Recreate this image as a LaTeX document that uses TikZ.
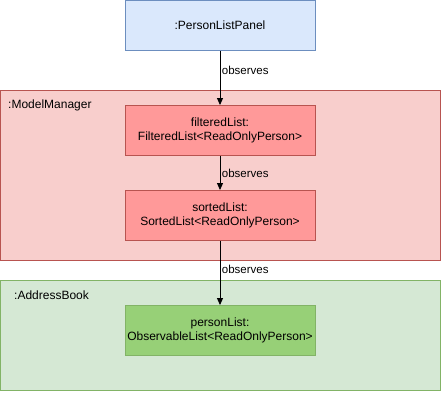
\documentclass[tikz,border=0pt]{standalone}
\usepackage{fontspec}
\setmainfont{Liberation Sans}
\usetikzlibrary{arrows.meta}
\definecolor{blueFill}{HTML}{DAE8FC}
\definecolor{blueLine}{HTML}{6C8EBF}
\definecolor{redFill}{HTML}{F8CECC}
\definecolor{redLine}{HTML}{B85450}
\definecolor{redBox}{HTML}{FF9999}
\definecolor{greenFill}{HTML}{D5E8D4}
\definecolor{greenLine}{HTML}{82B366}
\definecolor{greenBox}{HTML}{97D077}
\tikzset{
  obj/.style={draw, line width=0.9pt, minimum width=190pt, minimum height=50pt,
    inner sep=0pt, align=center, font=\fontsize{12}{14}\selectfont},
  group/.style={draw, line width=0.9pt},
  grouplabel/.style={anchor=west, inner sep=0pt, font=\fontsize{12}{14}\selectfont},
  obsarrow/.style={-{Triangle[length=7pt,width=6pt]}, line width=0.9pt},
  obslabel/.style={anchor=west, inner sep=1.5pt, font=\fontsize{11.5}{13}\selectfont}
}
\begin{document}
\begin{tikzpicture}[x=1pt,y=-1pt]
\useasboundingbox (0,0) rectangle (441,392);
% containers
\draw[group, fill=redFill, draw=redLine] (0.5,90.5) rectangle (440.5,260.5);
\node[grouplabel] (mm) at (8,105) {:ModelManager};
\draw[group, fill=greenFill, draw=greenLine] (0.5,280.5) rectangle (440.5,390.5);
\node[grouplabel] (ab) at (14,295) {:AddressBook};
% objects
\node[obj, fill=blueFill, draw=blueLine] (panel) at (220,25.5) {:PersonListPanel};
\node[obj, fill=redBox, draw=redLine] (filtered) at (220,130.5) {filteredList:\\FilteredList<ReadOnlyPerson>};
\node[obj, fill=redBox, draw=redLine] (sorted) at (220,215.5) {sortedList:\\SortedList<ReadOnlyPerson>};
\node[obj, fill=greenBox, draw=greenLine] (person) at (220,330.5) {personList:\\ObservableList<ReadOnlyPerson>};
% observation links
\draw[obsarrow] (panel) -- node[obslabel, pos=0.35] {observes} (filtered);
\draw[obsarrow] (filtered) -- node[obslabel, pos=0.5] {observes} (sorted);
\draw[obsarrow] (sorted) -- node[obslabel, pos=0.45] {observes} (person);
\end{tikzpicture}
\end{document}
